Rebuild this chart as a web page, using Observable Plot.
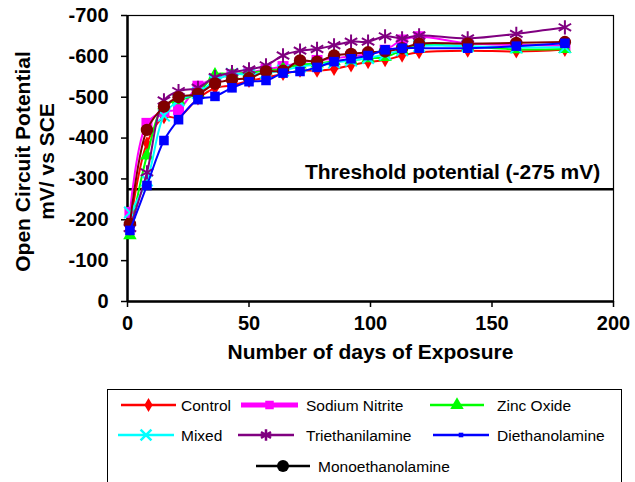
<!DOCTYPE html>
<html>
<head>
<meta charset="utf-8">
<script src="https://cdn.jsdelivr.net/npm/d3@7"></script>
<script src="https://cdn.jsdelivr.net/npm/@observablehq/plot@0.6"></script>
<style>
  html, body { margin: 0; padding: 0; background: white; }
  #wrap { position: relative; width: 635px; height: 482px; overflow: hidden; font-family: "Liberation Sans", Arial, sans-serif; }
  #legend { position: absolute; left: 107px; top: 389px; width: 515px; height: 110px; border: 1px solid #000; box-sizing: border-box; }
  #legend svg { position: absolute; left: 0; top: 0; }
</style>
</head>
<body>
<div id="wrap">
  <div id="chart"></div>
  <div id="legend"></div>
</div>
<script>
// ---- data ----
const days = [1, 8, 15, 21, 29, 36, 43, 50, 57, 64, 71, 78, 85, 92, 99, 106, 113, 120, 140, 160, 180];

const control          = [-185, -387, -451, -451, -497, -522, -529, -540, -548, -557, -565, -565, -569, -578, -586, -591, -602, -610, -614, -612, -616];
const sodiumNitrite    = [-218, -436, -465, -470, -527, -545, -555, -560, -568, -575, -585, -590, -595, -600, -605, -615, -640, -648, -632, -628, -626];
const zincOxide        = [-162, -357, -480, -492, -510, -555, -557, -560, -565, -570, -580, -582, -588, -590, -595, -598, -615, -628, -624, -617, -618];
const mixed            = [-218, -296, -455, -492, -510, -540, -557, -555, -560, -565, -575, -580, -585, -590, -596, -605, -615, -625, -625, -622, -622];
const triethanilamine  = [-180, -316, -492, -515, -523, -549, -561, -568, -578, -602, -614, -618, -627, -636, -636, -649, -644, -651, -644, -655, -671];
const diethanolamine   = [-174, -284, -394, -445, -494, -502, -523, -538, -541, -559, -563, -573, -587, -594, -602, -616, -620, -620, -620, -625, -632];
const monoethanolamine = [-190, -420, -477, -500, -508, -533, -543, -547, -563, -565, -590, -587, -602, -606, -610, -612, -620, -631, -631, -633, -635];

const seriesNames = ["Control", "Sodium Nitrite", "Zinc Oxide", "Mixed", "Triethanilamine", "Diethanolamine", "Monoethanolamine"];
const seriesValues = [control, sodiumNitrite, zincOxide, mixed, triethanilamine, diethanolamine, monoethanolamine];

const xTicks = [0, 50, 100, 150, 200];
const yTicks = [-700, -600, -500, -400, -300, -200, -100, 0];
const threshold = [-275];
const thresholdLabel = ["Threshold potential (-275 mV)"];
const xTitle = ["Number of days of Exposure"];
const yTitle = ["Open Circuit Potential\nmV/ vs SCE"];

// ---- styles ----
const styles = {
  "Control":          {color: "#ff0000", symbol: "diamond",  r: 4.3, fill: true,  legendR: 4.3, lineW: 2.5},
  "Sodium Nitrite":   {color: "#ff00ff", symbol: "square",   r: 6.2, fill: true,  legendR: 4.8, lineW: 5},
  "Zinc Oxide":       {color: "#00ff00", symbol: "triangle", r: 5.0, fill: true,  legendR: 5.0, lineW: 2.5},
  "Mixed":            {color: "#00ffff", symbol: "times",    r: 5.3, fill: false, legendR: 5.0, lineW: 2.5},
  "Triethanilamine":  {color: "#800080", symbol: "asterisk", r: 6.8, fill: false, legendR: 5.5, lineW: 2.5},
  "Diethanolamine":   {color: "#0000ff", symbol: "square",   r: 5.4, fill: true,  legendR: 2.6, lineW: 2.5},
  "Monoethanolamine": {color: "#800000", symbol: "circle",   r: 6.2, fill: true,  legendR: 6.0, lineW: 2.5, legendColor: "#000000"}
};
const drawOrder = ["Control", "Sodium Nitrite", "Zinc Oxide", "Mixed", "Triethanilamine", "Monoethanolamine", "Diethanolamine"];

const rows = [];
seriesNames.forEach((name, i) => {
  days.forEach((d, j) => rows.push({series: name, day: d, value: seriesValues[i][j]}));
});

const seriesMarks = [];
for (const name of drawOrder) {
  const s = styles[name];
  const data = rows.filter(r => r.series === name);
  seriesMarks.push(Plot.line(data, {x: "day", y: "value", stroke: s.color, strokeWidth: 2, curve: "catmull-rom"}));
  seriesMarks.push(Plot.dot(data, s.fill
    ? {x: "day", y: "value", symbol: () => s.symbol, r: s.r, fill: s.color, stroke: "none"}
    : {x: "day", y: "value", symbol: () => s.symbol, r: s.r, fill: "none", stroke: s.color, strokeWidth: 2}));
}

const chart = Plot.plot({
  width: 635,
  height: 380,
  marginLeft: 127,
  marginRight: 22,
  marginTop: 15,
  marginBottom: 79,
  style: {fontFamily: "'Liberation Sans', Arial, sans-serif", fontSize: "20px", fontWeight: "bold", color: "black", background: "white"},
  x: {domain: [0, 200]},
  y: {domain: [0, -700]},
  symbol: {type: "identity"},
  marks: [
    Plot.frame({stroke: "black", strokeWidth: 1.2}),
    Plot.axisX({ticks: xTicks, tickSize: 6, tickPadding: 8, tickFormat: d => String(d), label: null, strokeWidth: 1.5, fontSize: 20, fontWeight: "bold"}),
    Plot.axisY({ticks: yTicks, tickSize: 6, tickPadding: 13, tickFormat: d => String(d), label: null, strokeWidth: 1.5, fontSize: 20, fontWeight: "bold"}),
    Plot.ruleX([0], {stroke: "black", strokeWidth: 2.5}),
    Plot.ruleY([0], {stroke: "black", strokeWidth: 2.5}),
    Plot.ruleY(threshold, {stroke: "black", strokeWidth: 2.5}),
    ...seriesMarks,
    Plot.text(thresholdLabel, {x: 194.5, y: threshold[0], dy: -17, text: d => d, textAnchor: "end", fontSize: 21, fontWeight: "bold", fill: "black"}),
    Plot.text(xTitle, {frameAnchor: "bottom", dy: 57, text: d => d, fontSize: 21, fontWeight: "bold", fill: "black"}),
    Plot.text(yTitle, {frameAnchor: "left", textAnchor: "middle", dx: -93, dy: 3, rotate: -90, text: d => d, lineHeight: 1.12, fontSize: 21, fontWeight: "bold", fill: "black"})
  ]
});
document.getElementById("chart").appendChild(chart);

// ---- legend ----
const legendLayout = [
  {name: "Control",          x1: 13,  x2: 68,  tx: 73,  y: 15},
  {name: "Sodium Nitrite",   x1: 133, x2: 190, tx: 198, y: 15},
  {name: "Zinc Oxide",       x1: 322, x2: 376, tx: 389, y: 15},
  {name: "Mixed",            x1: 10,  x2: 66,  tx: 73,  y: 45},
  {name: "Triethanilamine",  x1: 130, x2: 186, tx: 198, y: 45},
  {name: "Diethanolamine",   x1: 325, x2: 381, tx: 389, y: 45},
  {name: "Monoethanolamine", x1: 148, x2: 202, tx: 210, y: 76}
];
const lsvg = d3.select("#legend").append("svg").attr("width", 515).attr("height", 110);
for (const item of legendLayout) {
  const s = styles[item.name];
  const col = s.legendColor || s.color;
  lsvg.append("line").attr("x1", item.x1).attr("x2", item.x2).attr("y1", item.y).attr("y2", item.y)
    .attr("stroke", col).attr("stroke-width", s.lineW);
  const cx = (item.x1 + item.x2) / 2;
  const symMap = {diamond: d3.symbolDiamond, square: d3.symbolSquare, triangle: d3.symbolTriangle, times: d3.symbolTimes, asterisk: d3.symbolAsterisk, circle: d3.symbolCircle};
  const path = d3.symbol(symMap[s.symbol], Math.PI * s.legendR * s.legendR)();
  const p = lsvg.append("path").attr("d", path).attr("transform", `translate(${cx},${item.y})`);
  if (s.fill) p.attr("fill", col).attr("stroke", "none");
  else p.attr("fill", "none").attr("stroke", col).attr("stroke-width", 2.5);
  lsvg.append("text").attr("x", item.tx).attr("y", item.y).attr("dy", "0.36em")
    .attr("font-family", "'Liberation Sans', Arial, sans-serif").attr("font-size", 15.5).attr("fill", "black")
    .text(item.name);
}
</script>
</body>
</html>
